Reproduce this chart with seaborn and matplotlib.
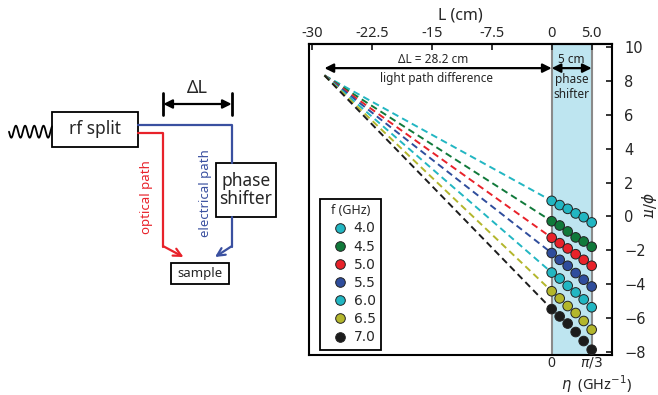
import numpy as np
import matplotlib
matplotlib.use("Agg")
import matplotlib.pyplot as plt
import pandas as pd
import seaborn as sns
from matplotlib.patches import Rectangle

# data
freqs = ["4.0", "4.5", "5.0", "5.5", "6.0", "6.5", "7.0"]
colors = ["#22b6c2", "#10793a", "#e8222a", "#2f4d9c", "#22b6c2", "#b3b62c", "#1c1c1c"]
L_shift = [0, 1, 2, 3, 4, 5]
phi_40 = [0.92, 0.67, 0.45, 0.18, -0.04, -0.35]
phi_45 = [-0.28, -0.53, -0.88, -1.23, -1.47, -1.78]
phi_50 = [-1.25, -1.57, -1.88, -2.22, -2.55, -2.90]
phi_55 = [-2.15, -2.55, -2.90, -3.33, -3.72, -4.12]
phi_60 = [-3.30, -3.65, -4.08, -4.47, -4.88, -5.34]
phi_65 = [-4.40, -4.82, -5.27, -5.68, -6.15, -6.66]
phi_70 = [-5.45, -5.88, -6.30, -6.80, -7.33, -7.84]
start_L = -28.4
start_phi = 8.3
top_ticks = [-30, -22.5, -15, -7.5, 0, 5]
top_labels = ["-30", "-22.5", "-15", "-7.5", "0", "5.0"]
bottom_ticks = [0, 5]
bottom_labels = ["0", r"$\pi/3$"]
y_ticks = list(range(-8, 11, 2))

phis = [phi_40, phi_45, phi_50, phi_55, phi_60, phi_65, phi_70]
rows = []
for f, ys in zip(freqs, phis):
    for L, p in zip(L_shift, ys):
        rows.append({"f": f, "L": L, "phi": p})
df = pd.DataFrame(rows)

sns.set_style("ticks")
plt.rcParams["font.family"] = ["Noto Sans", "DejaVu Sans"]
plt.rcParams["axes.linewidth"] = 1.5
plt.rcParams["axes.edgecolor"] = "black"

fig = plt.figure(figsize=(6.58, 3.95), dpi=100)

# ---------- right panel ----------
ax = fig.add_axes([0.470, 0.1013, 0.4596, 0.7873])
ax.axvspan(0, 5, facecolor="#bee5f0", edgecolor="#8a8a8a", lw=1.5, zorder=0)

for f, c, ys in zip(freqs, colors, phis):
    ax.plot([start_L, 0], [start_phi, ys[0]], ls=(0, (3.5, 2.2)), color=c, lw=1.4, zorder=2)

sns.scatterplot(data=df, x="L", y="phi", hue="f", palette=dict(zip(freqs, colors)),
                s=48, edgecolor="#222222", linewidth=0.7, ax=ax, zorder=3)

handles, labels = ax.get_legend_handles_labels()
leg = ax.legend(handles, labels, title="f (GHz)", loc="lower left",
                bbox_to_anchor=(0.037, 0.016), borderaxespad=0, fancybox=False,
                edgecolor="black", framealpha=1, handletextpad=0.0, labelspacing=0.3,
                borderpad=0.4, prop={"family": "DejaVu Sans", "size": 10}, title_fontsize=9)
leg.get_frame().set_linewidth(1.3)

ax.set_xlim(-30.3, 7.5)
ax.set_ylim(-8.15, 10.15)

ax.yaxis.tick_right()
ax.yaxis.set_label_position("right")
ax.set_yticks(y_ticks)
for lab in ax.get_yticklabels():
    lab.set_family("DejaVu Sans")
ax.tick_params(axis="y", direction="in", length=4, width=1.3, labelsize=10.5, pad=9)
ax.set_ylabel(r"$\phi/\pi$", rotation=270, fontsize=11, va="center")
ax.yaxis.set_label_coords(1.118, 0.48)

ax.set_xticks(bottom_ticks)
ax.set_xticklabels(bottom_labels)
ax.tick_params(axis="x", length=0, labelsize=10, pad=0.5)
ax.set_xlabel(r"$\eta$  (GHz$^{-1}$)", fontsize=10.5, va="center")
ax.xaxis.set_label_coords(0.951, -0.093)

secax = ax.secondary_xaxis("top")
secax.set_xticks(top_ticks)
secax.set_xticklabels(top_labels)
secax.tick_params(direction="in", length=4, width=1.3, labelsize=10.5, pad=2)
secax.set_xlabel("L (cm)", fontsize=11.5, labelpad=5)

arrow = dict(arrowstyle="<|-|>", color="black", lw=1.6, mutation_scale=13, shrinkA=0, shrinkB=0)
ax.annotate("", xy=(start_L, 8.73), xytext=(0, 8.73), arrowprops=arrow)
ax.annotate("", xy=(0, 8.73), xytext=(5, 8.73), arrowprops=arrow)
ax.text(-14.8, 9.25, "ΔL = 28.2 cm", ha="center", va="center", fontsize=8.5)
ax.text(-14.4, 8.1, "light path difference", ha="center", va="center", fontsize=8.5)
ax.text(2.5, 9.25, "5 cm", ha="center", va="center", fontsize=8.5, color="#222222")
ax.text(2.5, 8.05, "phase", ha="center", va="center", fontsize=8.5, color="#222222")
ax.text(2.5, 7.2, "shifter", ha="center", va="center", fontsize=8.5, color="#222222")

# ---------- left schematic (pixel coordinates) ----------
axd = fig.add_axes([0, 0, 300 / 658, 1])
axd.set_xlim(0, 300)
axd.set_ylim(395, 0)
axd.axis("off")

red = "#e8222a"
blue = "#3a50a0"

wx = np.linspace(9, 52, 300)
axd.plot(wx, 131.7 + 6 * np.sin(2 * np.pi * (wx - 9) / 9.2), color="black", lw=1.3)

axd.add_patch(Rectangle((52.3, 112.3), 85.4, 34.4, fc="white", ec="black", lw=1.3))
axd.text(95, 129.5, "rf split", ha="center", va="center", fontsize=12.5)

axd.plot([137.7, 231.7, 231.7], [125, 125, 163.3], color=blue, lw=1.6)
axd.plot([231.7, 231.7], [216.7, 246.7], color=blue, lw=1.6)
axd.annotate("", xy=(215, 257), xytext=(231.7, 246.2),
             arrowprops=dict(arrowstyle="->", color=blue, lw=1.6, mutation_scale=14, shrinkA=0, shrinkB=0))
axd.plot([137.7, 163.3, 163.3], [133.3, 133.3, 246.7], color=red, lw=1.6)
axd.annotate("", xy=(183.5, 257), xytext=(163.3, 246.2),
             arrowprops=dict(arrowstyle="->", color=red, lw=1.6, mutation_scale=14, shrinkA=0, shrinkB=0))

axd.add_patch(Rectangle((216, 163.3), 60, 53.4, fc="white", ec="black", lw=1.3))
axd.text(246, 190, "phase\nshifter", ha="center", va="center", fontsize=12.5, linespacing=1.05)

axd.add_patch(Rectangle((171, 262.7), 58.3, 21.3, fc="white", ec="black", lw=1.3))
axd.text(200, 273.3, "sample", ha="center", va="center", fontsize=9.5)

axd.text(146.7, 196.7, "optical path", rotation=90, ha="center", va="center", fontsize=9.5, color=red)
axd.text(205, 193.3, "electrical path", rotation=90, ha="center", va="center", fontsize=9.5, color=blue)

axd.plot([163.3, 163.3], [93, 115], color="black", lw=2)
axd.plot([231.7, 231.7], [93, 115], color="black", lw=2)
axd.annotate("", xy=(163.3, 104), xytext=(231.7, 104),
             arrowprops=dict(arrowstyle="<|-|>", color="black", lw=1.6, mutation_scale=13, shrinkA=0, shrinkB=0))
axd.text(197, 88, "ΔL", ha="center", va="center", fontsize=13)

fig.savefig("out.png", dpi=100)
